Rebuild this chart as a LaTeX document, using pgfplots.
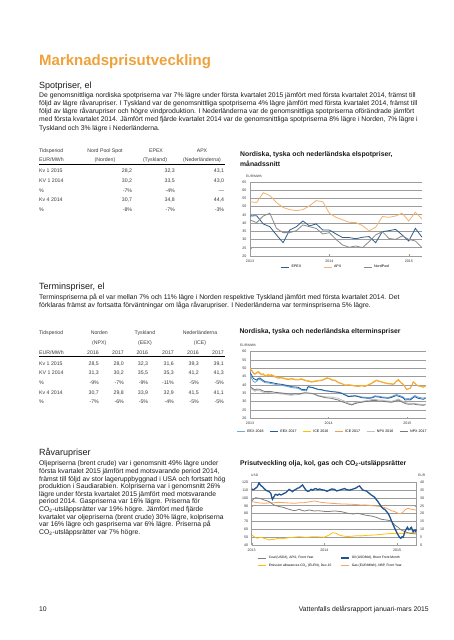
\documentclass[border=0pt]{standalone}
\usepackage{fontspec}
\setmainfont{Liberation Sans}
\usepackage{pgfplots}
\pgfplotsset{compat=1.18}

\definecolor{titleorange}{HTML}{EFA23A}
\definecolor{txt}{HTML}{1A1A1A}
\definecolor{tab}{HTML}{3A3A3A}
\definecolor{epex}{HTML}{2F5D8A}
\definecolor{apx}{HTML}{F4B26E}
\definecolor{nordpool}{HTML}{8A8A8A}
\definecolor{eexa}{HTML}{6FA8DC}
\definecolor{eexb}{HTML}{1F5C99}
\definecolor{icea}{HTML}{FFC000}
\definecolor{iceb}{HTML}{F0A050}
\definecolor{npxa}{HTML}{C0C0C0}
\definecolor{npxb}{HTML}{7A7A7A}
\definecolor{coal}{HTML}{808080}
\definecolor{oil}{HTML}{1F5490}
\definecolor{co2}{HTML}{FFC000}
\definecolor{gas}{HTML}{F4A460}
\definecolor{gridc}{HTML}{9C9C9C}

\newcommand{\bodyfont}{\fontsize{6.8}{8}\selectfont}
\newcommand{\tabfont}{\fontsize{5.2}{6}\selectfont}
\newcommand{\tickfont}{\fontsize{3.6}{4}\selectfont}

\newcommand{\TL}[3]{\node[anchor=mid west,inner sep=0pt,text=txt,font=\bodyfont] at (#1pt,#2pt) {#3};}
\newcommand{\TW}[3]{\node[anchor=mid west,inner sep=0pt,text=tab,font=\tabfont] at (#1pt,#2pt) {#3};}
\newcommand{\TC}[3]{\node[anchor=mid,inner sep=0pt,text=tab,font=\tabfont] at (#1pt,#2pt) {#3};}
\newcommand{\TE}[3]{\node[anchor=mid east,inner sep=0pt,text=tab,font=\tabfont] at (#1pt,#2pt) {#3};}
\newcommand{\HD}[3]{\node[anchor=mid west,inner sep=0pt,text=txt,font=\fontsize{9}{10}\selectfont] at (#1pt,#2pt) {#3};}
\newcommand{\CT}[3]{\node[anchor=mid west,inner sep=0pt,text=txt,font=\fontsize{6.8}{8}\selectfont\bfseries] at (#1pt,#2pt) {#3};}
\newcommand{\UL}[3]{\node[anchor=mid west,inner sep=0pt,text=black!80,font=\fontsize{3.3}{4}\selectfont] at (#1pt,#2pt) {#3};}

\pgfplotsset{
  base/.style={
    scale only axis,
    axis x line*=bottom, axis y line*=left,
    axis line style={draw=gridc, line width=0.5pt},
    ymajorgrids, grid style={draw=gridc, line width=0.85pt},
    tick label style={font=\tickfont, text=black!80},
    /pgf/number format/assume math mode=true,
    major tick length=1.5pt,
    tick style={draw=gridc, line width=0.4pt},
    legend style={draw=none, fill=none, font=\tickfont, inner sep=0pt, outer sep=0pt},
    legend cell align=left,
    legend image code/.code={\draw[##1] (0pt,0pt) -- (8pt,0pt);},
    every axis plot/.append style={line width=0.8pt},
  }
}

\begin{document}
\begin{tikzpicture}
\path[fill=white,use as bounding box] (0pt,0pt) rectangle (453pt,640pt);

% Title
\node[anchor=mid west,inner sep=0pt,text=titleorange,font=\fontsize{15}{17}\selectfont\bfseries] at (39pt,576.7pt) {Marknadsprisutveckling};

% Spotpriser
\HD{39}{554}{Spotpriser, el}
\TL{39}{545}{De genomsnittliga nordiska spotpriserna var 7\% lägre under första kvartalet 2015 jämfört med första kvartalet 2014, främst till}
\TL{39}{536.9}{följd av lägre råvarupriser. I Tyskland var de genomsnittliga spotpriserna 4\% lägre jämfört med första kvartalet 2014, främst till}
\TL{39}{528.8}{följd av lägre råvarupriser och högre vindproduktion. I Nederländerna var de genomsnittliga spotpriserna oförändrade jämfört}
\TL{39}{520.7}{med första kvartalet 2014. Jämfört med fjärde kvartalet 2014 var de genomsnittliga spotpriserna 8\% lägre i Norden, 7\% lägre i}
\TL{39}{512.6}{Tyskland och 3\% lägre i Nederländerna.}

% Table 1
\TW{39}{490}{Tidsperiod}
\TC{105}{490}{Nord Pool Spot}
\TC{156}{490}{EPEX}
\TC{202}{490}{APX}
\TW{39}{480.7}{EUR/MWh}
\TC{105}{480.7}{(Norden)}
\TC{155}{480.7}{(Tyskland)}
\TC{202}{480.7}{(Nederländerna)}
\draw[line width=0.8pt,black] (39pt,476pt) -- (225pt,476pt);
\TW{39}{470}{Kv 1 2015}\TE{132.3}{470}{28,2}\TE{175}{470}{32,3}\TE{224.3}{470}{43,1}
\TW{39}{460}{KV 1 2014}\TE{132.3}{460}{30,2}\TE{175}{460}{33,5}\TE{224.3}{460}{43,0}
\TW{39}{450}{\%}\TE{132.3}{450}{-7\%}\TE{175}{450}{-4\%}\TE{224.3}{450}{—}
\TW{39}{440.7}{Kv 4 2014}\TE{132.3}{440.7}{30,7}\TE{175}{440.7}{34,8}\TE{224.3}{440.7}{44,4}
\TW{39}{431}{\%}\TE{132.3}{431}{-8\%}\TE{175}{431}{-7\%}\TE{224.3}{431}{-3\%}

% Chart 1
\CT{240}{486}{Nordiska, tyska och nederländska elspotpriser,}
\CT{240}{476}{månadssnitt}
\UL{246}{465}{EUR/MWh}
\begin{axis}[base, at={(250pt,458pt)}, anchor=north west, width=172pt, height=74pt,
  xmin=0, xmax=26, ymin=20, ymax=65, ytick={20,25,...,65},
  xtick={0,12,24}, xticklabels={2013,2014,2015},
  legend columns=3,
  legend style={at={(0.5,-0.15)}, anchor=center, /tikz/every even column/.append style={column sep=20pt}}]
\addplot[epex] coordinates {(0,44.3) (1,44.5) (2,39.5) (3,37.8) (4,32.8) (5,28.1) (6,35.8) (7,37.8) (8,41.3) (9,38.3) (10,39.5) (11,35.8) (12,35.8) (13,33.4) (14,31.2) (15,31.2) (16,30.5) (17,31.4) (18,31.8) (19,28.1) (20,34.8) (21,35.4) (22,36.2) (23,32.8) (24,29.1) (25,36.8) (26,31.4)};
\addlegendentry{EPEX}
\addplot[apx] coordinates {(0,53) (1,52.5) (2,58.5) (3,56.8) (4,52.5) (5,49.5) (6,48.2) (7,47.6) (8,48.2) (9,50.5) (10,53.7) (11,53) (12,46) (13,43.5) (14,42) (15,40.5) (16,40.3) (17,38.5) (18,35.3) (19,37.5) (20,44) (21,43.5) (22,44.3) (23,46) (24,41.3) (25,46.6) (26,42.5)};
\addlegendentry{APX}
\addplot[nordpool] coordinates {(0,41.9) (1,40.3) (2,44.3) (3,46) (4,36.8) (5,34.2) (6,34.2) (7,35.4) (8,38.9) (9,37.8) (10,36.8) (11,33.4) (12,34.2) (13,30.1) (14,26.7) (15,25.3) (16,26.1) (17,25.1) (18,28.7) (19,32.8) (20,34.8) (21,30.7) (22,30.1) (23,32.2) (24,30.1) (25,29.1) (26,25.1)};
\addlegendentry{NordPool}
\end{axis}

% Terminspriser
\HD{39}{353}{Terminspriser, el}
\TL{39}{342.7}{Terminspriserna på el var mellan 7\% och 11\% lägre i Norden respektive Tyskland jämfört med första kvartalet 2014. Det}
\TL{39}{335}{förklaras främst av fortsatta förväntningar om låga råvarupriser. I Nederländerna var terminspriserna 5\% lägre.}

% Table 2
\TW{39}{307.7}{Tidsperiod}
\TC{99.3}{307.7}{Norden}
\TC{145}{307.7}{Tyskland}
\TC{200}{307.7}{Nederländerna}
\TC{99.3}{297.7}{(NPX)}
\TC{145}{297.7}{(EEX)}
\TC{200}{297.7}{(ICE)}
\TW{39}{287.7}{EUR/MWh}
\TE{99}{287.7}{2016}\TE{124}{287.7}{2017}\TE{148.3}{287.7}{2016}\TE{174}{287.7}{2017}\TE{199}{287.7}{2016}\TE{224}{287.7}{2017}
\draw[line width=0.8pt,black] (39pt,284pt) -- (225pt,284pt);
\TW{39}{277}{Kv 1 2015}\TE{99}{277}{28,5}\TE{124}{277}{28,0}\TE{148.3}{277}{32,3}\TE{174}{277}{31,6}\TE{199}{277}{39,3}\TE{224}{277}{39,1}
\TW{39}{267.7}{KV 1 2014}\TE{99}{267.7}{31,3}\TE{124}{267.7}{30,2}\TE{148.3}{267.7}{35,5}\TE{174}{267.7}{35,3}\TE{199}{267.7}{41,2}\TE{224}{267.7}{41,3}
\TW{39}{258}{\%}\TE{99}{258}{-9\%}\TE{124}{258}{-7\%}\TE{148.3}{258}{-9\%}\TE{174}{258}{-11\%}\TE{199}{258}{-5\%}\TE{224}{258}{-5\%}
\TW{39}{248.3}{Kv 4 2014}\TE{99}{248.3}{30,7}\TE{124}{248.3}{29,8}\TE{148.3}{248.3}{33,9}\TE{174}{248.3}{32,9}\TE{199}{248.3}{41,5}\TE{224}{248.3}{41,1}
\TW{39}{239}{\%}\TE{99}{239}{-7\%}\TE{124}{239}{-6\%}\TE{148.3}{239}{-5\%}\TE{174}{239}{-4\%}\TE{199}{239}{-5\%}\TE{224}{239}{-5\%}

% Chart 2
\CT{239.3}{309}{Nordiska, tyska och nederländska elterminspriser}
\UL{240}{296.3}{EUR/MWh}
\begin{axis}[base, at={(250pt,288.3pt)}, anchor=north west, width=175.7pt, height=66.6pt,
  xmin=2013, xmax=2015.234, ymin=20, ymax=60, ytick={20,25,...,60},
  xtick={2013,2014,2015}, xticklabels={2013,2014,2015},
  legend columns=6,
  legend style={at={(0.47,-0.2)}, anchor=center, /tikz/every even column/.append style={column sep=4pt}}]
\addplot[eexa] coordinates {(2013.000,46.5) (2013.021,44) (2013.042,42.2) (2013.064,41.6) (2013.085,42.2) (2013.106,43.2) (2013.127,43.4) (2013.148,42.6) (2013.191,41.4) (2013.233,41.2) (2013.275,40.8) (2013.318,40.4) (2013.360,40) (2013.403,39.8) (2013.445,39.4) (2013.487,39) (2013.530,38.4) (2013.572,38.2) (2013.614,38) (2013.657,36.8) (2013.699,36.6) (2013.720,36.4) (2013.731,38.2) (2013.742,38.8) (2013.763,38.6) (2013.805,38.2) (2013.826,37.8) (2013.869,37.2) (2013.911,37) (2013.953,36.5) (2013.996,36.3) (2014.038,36) (2014.081,35.9) (2014.123,35.7) (2014.165,35.2) (2014.208,34.3) (2014.229,33.9) (2014.250,33.3) (2014.292,33.5) (2014.335,33.7) (2014.377,33.3) (2014.419,32.8) (2014.462,32.6) (2014.504,32.4) (2014.547,32.6) (2014.589,33.5) (2014.631,33.3) (2014.674,32.9) (2014.716,32.7) (2014.758,32.5) (2014.801,33.1) (2014.843,34) (2014.864,34.3) (2014.907,33.6) (2014.949,32.8) (2014.970,31.7) (2015.013,31.9) (2015.034,31.7) (2015.055,32.3) (2015.076,33.1) (2015.097,33.7) (2015.119,33.1) (2015.140,32.7) (2015.161,32.5) (2015.182,32.3) (2015.203,32.1) (2015.233,32.6)};
\addlegendentry{EEX 2016}
\addplot[eexb] coordinates {(2013.000,47.4) (2013.021,46) (2013.042,44) (2013.064,43.4) (2013.085,43) (2013.106,44) (2013.127,44.2) (2013.148,43.4) (2013.191,42) (2013.233,41.8) (2013.275,41.4) (2013.318,41) (2013.360,40.6) (2013.403,40.4) (2013.445,40) (2013.487,39.6) (2013.530,39) (2013.572,38.8) (2013.614,38.6) (2013.657,37.4) (2013.699,37.2) (2013.720,37) (2013.731,38.5) (2013.742,39) (2013.763,38.8) (2013.805,38.4) (2013.826,38) (2013.869,37.4) (2013.911,37.2) (2013.953,36.6) (2013.996,36.4) (2014.038,36) (2014.081,35.8) (2014.123,35.6) (2014.165,35) (2014.208,34) (2014.229,33.6) (2014.250,33) (2014.292,33.2) (2014.335,33.4) (2014.377,33) (2014.419,32.4) (2014.462,32.2) (2014.504,32) (2014.547,32.2) (2014.589,33) (2014.631,32.8) (2014.674,32.4) (2014.716,32.2) (2014.758,32) (2014.801,32.6) (2014.843,33.4) (2014.864,33.6) (2014.907,33) (2014.949,32.2) (2014.970,31) (2015.013,31.2) (2015.034,31) (2015.055,31.6) (2015.076,32.4) (2015.097,33) (2015.119,32.4) (2015.140,32) (2015.161,31.8) (2015.182,31.6) (2015.203,31.4) (2015.233,32)};
\addlegendentry{EEX 2017}
\addplot[icea] coordinates {(2013.000,50) (2013.021,49) (2013.042,47.5) (2013.064,46.8) (2013.085,47.6) (2013.106,48.2) (2013.127,47.2) (2013.148,46.5) (2013.170,46.8) (2013.191,45.6) (2013.212,45.9) (2013.233,46.6) (2013.254,46) (2013.275,46.3) (2013.318,45.2) (2013.360,44.4) (2013.403,44.6) (2013.445,44) (2013.487,43.6) (2013.530,44) (2013.572,43.5) (2013.614,43.4) (2013.657,43.8) (2013.699,43) (2013.742,42.6) (2013.784,42) (2013.826,42.5) (2013.869,42.8) (2013.911,43) (2013.953,43.8) (2013.975,44.4) (2014.017,44) (2014.038,43.2) (2014.081,43) (2014.123,41.6) (2014.165,41) (2014.208,40) (2014.250,40.2) (2014.292,40) (2014.335,39.6) (2014.377,39.4) (2014.419,39.8) (2014.462,39.4) (2014.504,40.2) (2014.547,41.2) (2014.589,42.6) (2014.610,43) (2014.631,42.6) (2014.674,42) (2014.716,41.4) (2014.758,41) (2014.801,40.8) (2014.822,40.6) (2014.843,41.4) (2014.864,42.5) (2014.886,43.4) (2014.907,42.2) (2014.928,41.2) (2014.949,40.6) (2014.970,39) (2014.992,37.4) (2015.013,37.8) (2015.034,38) (2015.055,39.6) (2015.076,42) (2015.097,41.2) (2015.119,40) (2015.140,39.6) (2015.161,39.4) (2015.182,39.2) (2015.203,38.8) (2015.233,39.6)};
\addlegendentry{ICE 2016}
\addplot[iceb] coordinates {(2013.000,49.6) (2013.021,48.6) (2013.042,47) (2013.064,46.4) (2013.085,47.2) (2013.106,47.6) (2013.127,46.8) (2013.148,46) (2013.170,46.3) (2013.191,45.2) (2013.212,45.4) (2013.233,46) (2013.254,45.5) (2013.275,45.8) (2013.318,44.8) (2013.360,44) (2013.403,44.2) (2013.445,43.6) (2013.487,43.2) (2013.530,43.6) (2013.572,43.1) (2013.614,43) (2013.657,43.4) (2013.699,42.6) (2013.742,42.2) (2013.784,41.7) (2013.826,42.1) (2013.869,42.4) (2013.911,42.7) (2013.953,43.4) (2013.975,44) (2014.017,43.6) (2014.038,42.9) (2014.081,42.7) (2014.123,41.3) (2014.165,40.8) (2014.208,39.8) (2014.250,40) (2014.292,39.8) (2014.335,39.3) (2014.377,39.1) (2014.419,39.5) (2014.462,39.1) (2014.504,39.9) (2014.547,40.9) (2014.589,42.2) (2014.610,42.6) (2014.631,42.3) (2014.674,41.7) (2014.716,41.1) (2014.758,40.7) (2014.801,40.5) (2014.822,40.3) (2014.843,41.1) (2014.864,42.1) (2014.886,43) (2014.907,41.9) (2014.928,40.9) (2014.949,40.3) (2014.970,38.8) (2014.992,37.2) (2015.013,37.6) (2015.034,37.9) (2015.055,39.4) (2015.076,41.7) (2015.097,41) (2015.119,39.8) (2015.140,39.4) (2015.161,39.2) (2015.182,39) (2015.203,38.6) (2015.233,39.3)};
\addlegendentry{ICE 2017}
\addplot[npxa] coordinates {(2013.000,38.4) (2013.021,37.6) (2013.042,36.8) (2013.064,36.2) (2013.085,36.8) (2013.106,36.6) (2013.127,36.6) (2013.148,36) (2013.191,35.3) (2013.233,35.5) (2013.275,35.3) (2013.318,35) (2013.360,34.8) (2013.403,34.6) (2013.445,34.4) (2013.487,34) (2013.530,33.8) (2013.572,34.2) (2013.614,34.2) (2013.657,34.6) (2013.699,35) (2013.742,34.8) (2013.784,34.8) (2013.826,34.4) (2013.869,33.6) (2013.911,33.3) (2013.953,32.9) (2013.996,32.8) (2014.038,32.8) (2014.081,32.3) (2014.123,32) (2014.165,31) (2014.208,30.2) (2014.250,29.2) (2014.292,28.4) (2014.314,28.8) (2014.335,29.3) (2014.377,29.9) (2014.419,30.1) (2014.462,30.5) (2014.504,30.8) (2014.547,31.2) (2014.589,31.4) (2014.631,31) (2014.674,31) (2014.716,30.6) (2014.758,30.4) (2014.801,30.2) (2014.843,30.8) (2014.886,31.6) (2014.907,31) (2014.949,30) (2014.992,29.2) (2015.034,28.9) (2015.076,29.1) (2015.119,28.7) (2015.161,28.5) (2015.203,28.3) (2015.233,28.6)};
\addlegendentry{NPX 2016}
\addplot[npxb] coordinates {(2013.000,39) (2013.021,38.4) (2013.042,37.6) (2013.064,37) (2013.085,37.6) (2013.106,37.4) (2013.127,37.4) (2013.148,36.8) (2013.191,36) (2013.233,36.2) (2013.275,36) (2013.318,35.6) (2013.360,35.4) (2013.403,35.2) (2013.445,35) (2013.487,34.6) (2013.530,34.4) (2013.572,34.8) (2013.614,34.6) (2013.657,35) (2013.699,35.4) (2013.742,35.2) (2013.784,35) (2013.826,34.4) (2013.869,33.4) (2013.911,33) (2013.953,32.4) (2013.996,32.2) (2014.038,32) (2014.081,31.4) (2014.123,31) (2014.165,30) (2014.208,29.4) (2014.250,28.6) (2014.292,28) (2014.314,28.4) (2014.335,28.8) (2014.377,29.4) (2014.419,29.6) (2014.462,30) (2014.504,30.2) (2014.547,30.6) (2014.589,30.8) (2014.631,30.4) (2014.674,30.4) (2014.716,30) (2014.758,29.8) (2014.801,29.6) (2014.843,30.2) (2014.886,31) (2014.907,30.4) (2014.949,29.4) (2014.992,28.6) (2015.034,28.4) (2015.076,28.6) (2015.119,28.2) (2015.161,28) (2015.203,27.8) (2015.233,28.2)};
\addlegendentry{NPX 2017}
\end{axis}

% Råvarupriser
\HD{39}{186.7}{Råvarupriser}
\TL{39}{176.7}{Oljepriserna (brent crude) var i genomsnitt 49\% lägre under}
\TL{39}{169.1}{första kvartalet 2015 jämfört med motsvarande period 2014,}
\TL{39}{161.5}{främst till följd av stor lageruppbyggnad i USA och fortsatt hög}
\TL{39}{153.9}{produktion i Saudiarabien. Kolpriserna var i genomsnitt 26\%}
\TL{39}{146.3}{lägre under första kvartalet 2015 jämfört med motsvarande}
\TL{39}{138.7}{period 2014. Gaspriserna var 16\% lägre. Priserna för}
\TL{39}{131.1}{CO\textsubscript{2}-utsläppsrätter var 19\% högre. Jämfört med fjärde}
\TL{39}{123.5}{kvartalet var oljepriserna (brent crude) 30\% lägre, kolpriserna}
\TL{39}{115.9}{var 16\% lägre och gaspriserna var 6\% lägre. Priserna på}
\TL{39}{108.3}{CO\textsubscript{2}-utsläppsrätter var 7\% högre.}

% Chart 3
\CT{240}{177.3}{Prisutveckling olja, kol, gas och CO\textsubscript{2}-utsläppsrätter}
\UL{251}{166}{USD}
\UL{418}{166}{EUR}
\begin{axis}[base, at={(251.7pt,157.7pt)}, anchor=north west, width=165pt, height=62.7pt,
  xmin=2013, xmax=2015.27, ymin=0, ymax=40, ytick={0,5,...,40},
  axis y line*=right, axis x line=none, xtick=\empty]
\addplot[gas] coordinates {(2013.000,27.7) (2013.040,27.3) (2013.078,27) (2013.120,26.8) (2013.171,26.6) (2013.240,26.9) (2013.309,27) (2013.380,27.2) (2013.447,27) (2013.520,26.8) (2013.585,26.6) (2013.650,26.9) (2013.724,27) (2013.800,27.6) (2013.862,28.1) (2013.910,27.6) (2013.954,27.2) (2014.020,26.9) (2014.092,26.6) (2014.160,26.4) (2014.230,26.2) (2014.300,26.1) (2014.369,26) (2014.440,25.8) (2014.507,25.5) (2014.550,25.6) (2014.599,25.5) (2014.650,25.1) (2014.691,24.9) (2014.740,24.7) (2014.783,24.5) (2014.820,24) (2014.853,23.4) (2014.890,22.7) (2014.922,21.9) (2014.968,21.3) (2015.014,20.2) (2015.040,20) (2015.060,20.2) (2015.085,21.3) (2015.106,22.3) (2015.130,23) (2015.152,23.4) (2015.175,23) (2015.198,22.8) (2015.230,22.5) (2015.267,22.3)};
\addplot[co2] coordinates {(2013.000,6.4) (2013.032,5.3) (2013.078,4.3) (2013.124,4.9) (2013.171,4.3) (2013.205,3.8) (2013.240,3.2) (2013.275,3.6) (2013.309,3.6) (2013.350,4.1) (2013.400,4) (2013.460,4.3) (2013.516,4.7) (2013.590,5) (2013.654,5.3) (2013.700,5.1) (2013.747,4.9) (2013.820,5.2) (2013.885,5.3) (2013.950,5.1) (2014.000,5) (2014.040,5.8) (2014.069,6.5) (2014.095,7.3) (2014.115,7.8) (2014.160,7.5) (2014.207,6.3) (2014.250,5.8) (2014.300,5.5) (2014.350,5.5) (2014.400,5.7) (2014.450,5.9) (2014.500,5.8) (2014.550,6) (2014.600,6.2) (2014.650,6.3) (2014.700,6.4) (2014.740,6.6) (2014.783,6.8) (2014.830,7) (2014.876,7.2) (2014.920,7.3) (2014.968,7.5) (2015.010,7.2) (2015.060,7.3) (2015.110,7.4) (2015.152,7.6) (2015.190,7.7) (2015.221,7.9) (2015.267,8.2)};
\end{axis}
\begin{axis}[base, at={(251.7pt,157.7pt)}, anchor=north west, width=165pt, height=62.7pt,
  xmin=2013, xmax=2015.27, ymin=40, ymax=120, ytick={40,50,...,120},
  ymajorgrids=false,
  xtick={2013,2014,2015}, xticklabels={2013,2014,2015},
  legend columns=2,
  legend style={at={(0.48,-0.27)}, anchor=center, font=\fontsize{3.3}{4}\selectfont, /tikz/every even column/.append style={column sep=7pt}, /tikz/every row/.append style={row sep=2pt}}]
\addplot[coal] coordinates {(2013.000,96) (2013.030,99) (2013.055,100.4) (2013.080,100) (2013.101,99.6) (2013.140,98.6) (2013.171,97.4) (2013.205,96.5) (2013.240,95.3) (2013.275,93) (2013.309,91) (2013.340,90) (2013.378,89) (2013.410,88.5) (2013.447,87.7) (2013.480,86.5) (2013.516,85.5) (2013.550,84.6) (2013.585,83.8) (2013.620,84.5) (2013.654,85.5) (2013.690,84.2) (2013.724,83.4) (2013.760,84) (2013.793,84.7) (2013.830,84) (2013.862,83.4) (2013.910,83.8) (2013.954,83.4) (2014.000,82.9) (2014.046,82.6) (2014.090,83) (2014.138,83.4) (2014.185,83) (2014.230,82.6) (2014.280,81.5) (2014.323,80.4) (2014.360,80) (2014.392,79.6) (2014.430,80) (2014.461,80.4) (2014.510,79.4) (2014.553,78.3) (2014.600,77.6) (2014.645,77) (2014.680,76.2) (2014.714,75.3) (2014.750,74) (2014.783,72.8) (2014.820,72.3) (2014.853,71.9) (2014.890,71.3) (2014.922,70.6) (2014.945,68) (2014.968,65.5) (2014.990,64) (2015.014,62.6) (2015.040,60.5) (2015.060,59) (2015.085,58) (2015.106,57) (2015.140,56) (2015.175,54.9) (2015.220,54.5) (2015.267,54)};
\addlegendentry{Coal (USD/t), API2, Front Year}
\addplot[oil, line width=1.3pt] coordinates {(2013.000,111.5) (2013.015,110.5) (2013.032,111) (2013.055,112.5) (2013.078,114.5) (2013.090,117) (2013.101,119.6) (2013.112,117.5) (2013.124,116) (2013.147,114.5) (2013.171,112) (2013.194,110) (2013.215,109) (2013.240,108) (2013.263,106) (2013.275,101) (2013.286,98.3) (2013.298,100.5) (2013.309,102) (2013.320,104) (2013.332,104.7) (2013.355,103.5) (2013.378,105) (2013.400,103.8) (2013.424,104.7) (2013.447,106) (2013.470,106.8) (2013.493,109) (2013.516,111) (2013.540,109.5) (2013.562,108) (2013.585,110) (2013.608,111) (2013.630,112.5) (2013.654,113) (2013.677,115) (2013.700,116.6) (2013.724,113) (2013.747,110) (2013.770,108.5) (2013.793,109) (2013.816,111) (2013.839,110) (2013.862,111.5) (2013.885,112) (2013.908,110.5) (2013.931,111.5) (2013.965,110.5) (2014.000,110) (2014.035,108.5) (2014.069,110) (2014.100,111.5) (2014.138,111) (2014.170,109) (2014.207,110) (2014.240,111) (2014.276,112) (2014.310,110.5) (2014.346,110) (2014.380,111) (2014.415,112) (2014.440,113) (2014.461,114.5) (2014.484,115.3) (2014.507,112.5) (2014.530,110) (2014.553,109.5) (2014.576,109) (2014.610,106.5) (2014.645,103.8) (2014.668,102.5) (2014.691,100.9) (2014.714,98) (2014.737,95.3) (2014.760,92) (2014.783,88.9) (2014.806,86.5) (2014.829,85.5) (2014.853,83) (2014.876,80.4) (2014.900,76) (2014.922,71) (2014.945,66) (2014.968,61.3) (2014.990,57) (2015.014,52.8) (2015.032,50) (2015.051,48.5) (2015.067,50.5) (2015.083,49.8) (2015.095,53) (2015.106,57) (2015.125,60) (2015.143,62.6) (2015.160,59.5) (2015.175,60) (2015.188,62) (2015.198,62.6) (2015.210,59) (2015.221,57) (2015.233,58.5) (2015.244,59) (2015.255,57.5) (2015.267,60)};
\addlegendentry{Oil (USD/bbl), Brent Front Month}
\addlegendimage{co2}
\addlegendentry{Emission allowances CO\textsubscript{2} (EUR/t), Dec-15}
\addlegendimage{gas}
\addlegendentry{Gas (EUR/MWh), NBP, Front Year}
\end{axis}

% Footer
\node[anchor=mid west,inner sep=0pt,text=txt,font=\fontsize{6.8}{8}\selectfont] at (39pt,31pt) {10};
\node[anchor=mid east,inner sep=0pt,text=txt,font=\fontsize{6.8}{8}\selectfont] at (429pt,31pt) {Vattenfalls delårsrapport januari-mars 2015};
\end{tikzpicture}
\end{document}
